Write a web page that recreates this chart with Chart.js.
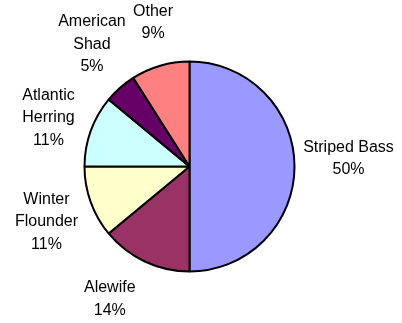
<!DOCTYPE html>
<html>
<head>
<meta charset="utf-8">
<script src="https://cdn.jsdelivr.net/npm/chart.js@4"></script>
<style>
  html, body { margin: 0; padding: 0; background: #fff; }
  #wrap { width: 402px; height: 323px; position: relative; }
</style>
</head>
<body>
<div id="wrap"><canvas id="chartFish"></canvas></div>
<script>
// Catch share by species (percent)
const especies = ['Striped Bass', 'Alewife', 'Winter Flounder', 'Atlantic Herring', 'American Shad', 'Other'];
const porcentajes = [50, 14, 11, 11, 5, 9];
// wrapped label lines, as shown next to each slice
const etiquetas = [['Striped Bass'], ['Alewife'], ['Winter', 'Flounder'], ['Atlantic', 'Herring'], ['American', 'Shad'], ['Other']];

const colores = ['#9999ff', '#993366', '#ffffcc', '#ccffff', '#660066', '#ff8080'];

// Draws "name / NN%" outside each slice, along the slice's mid angle
const outsideLabels = {
    id: 'outsideLabels',
    afterDatasetsDraw(chart, args, opts) {
        const ctx = chart.ctx;
        const meta = chart.getDatasetMeta(0);
        ctx.save();
        ctx.font = opts.font;
        ctx.fillStyle = '#000';
        ctx.textAlign = 'center';
        ctx.textBaseline = 'middle';
        meta.data.forEach((arc, i) => {
            const mid = (arc.startAngle + arc.endAngle) / 2;
            const nudge = opts.nudge[i] || [0, 0];
            const cx = arc.x + Math.cos(mid) * opts.distance + nudge[0];
            const cy = arc.y + Math.sin(mid) * opts.distance + nudge[1];
            const lines = etiquetas[i].concat([porcentajes[i] + '%']);
            const top = cy - (lines.length - 1) * opts.lineHeight / 2;
            ctx.save();
            // label boxes narrower than their longest word cut it off on the right
            if (opts.clipRight[i] != null) {
                ctx.beginPath();
                ctx.rect(0, 0, cx + opts.clipRight[i], chart.height);
                ctx.clip();
            }
            lines.forEach((t, k) => ctx.fillText(t, cx, top + k * opts.lineHeight));
            ctx.restore();
        });
        ctx.restore();
    }
};

new Chart(document.getElementById('chartFish'), {
    type: 'pie',
    data: {
        labels: especies,
        datasets: [{
            data: porcentajes,
            backgroundColor: colores,
            borderColor: '#000',
            borderWidth: 2,
        }]
    },
    options: {
        responsive: true,
        maintainAspectRatio: false,
        animation: false,
        radius: 105,
        layout: { padding: { left: 60, right: 83, top: 60, bottom: 50 } },
        plugins: {
            legend: { display: false },
            tooltip: { enabled: false },
            outsideLabels: {
                font: '16px "Liberation Sans", Arial, sans-serif',
                lineHeight: 22.5,
                distance: 152,
                nudge: [[7, -8], [-15, -5], [0, 4], [2, 3], [3, -8], [6, 2]],
                clipRight: [null, null, null, 29, 33, null],
            }
        }
    },
    plugins: [outsideLabels]
});
</script>
</body>
</html>
